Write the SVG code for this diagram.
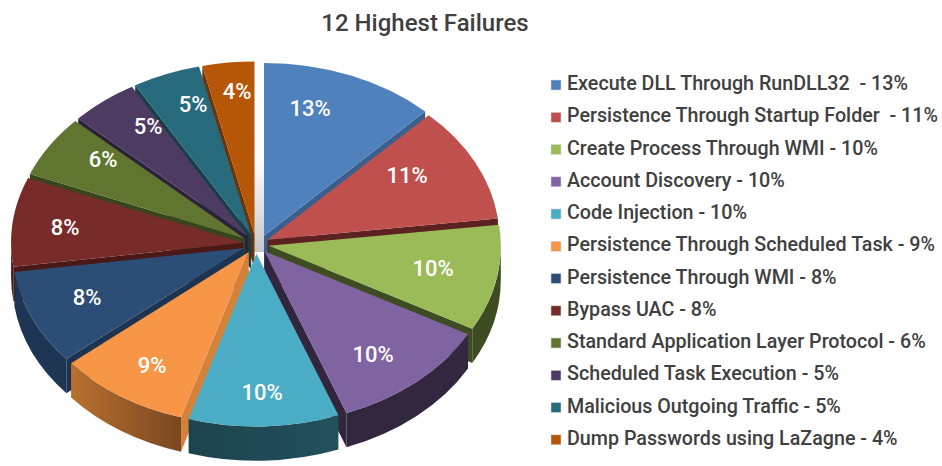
<svg xmlns="http://www.w3.org/2000/svg" width="942" height="466" viewBox="0 0 942 466">
<defs>
<linearGradient id="gOrangeArc" x1="0" y1="0" x2="1" y2="0">
<stop offset="0" stop-color="#b8712f"/><stop offset="1" stop-color="#7a4722"/>
</linearGradient>
<linearGradient id="gCyanArc" x1="0" y1="0" x2="1" y2="0">
<stop offset="0" stop-color="#1d434e"/><stop offset="1" stop-color="#22515c"/>
</linearGradient>
<linearGradient id="gStrip" x1="0" y1="0" x2="0" y2="1">
<stop offset="0" stop-color="#ffffff"/><stop offset="1" stop-color="#c6c6c6"/>
</linearGradient>
</defs>
<style>
.title{font-family:Roboto,"Liberation Sans",sans-serif;font-size:24px;font-weight:500;fill:#404040}
.lbl{font-family:Roboto,"Liberation Sans",sans-serif;font-size:22px;font-weight:500;fill:#ffffff;text-anchor:middle}
.leg{font-family:Roboto,"Liberation Sans",sans-serif;font-size:19.7px;font-weight:500;fill:#404040;white-space:pre}
.sw{stroke:#d8d8d8;stroke-width:0.6}
</style>
<rect width="942" height="466" fill="#ffffff"/>
<text class="title" x="425" y="31" text-anchor="middle">12 Highest Failures</text>
<rect x="254" y="160" width="10" height="92" fill="url(#gStrip)"/>
<g id="pie" transform="translate(256,244) scale(1,0.745)">
<g id="slice-12">
<path d="M -1.5,-12.9 L -53.7,-239 L -53.7,-193 L -1.5,33.1 Z" fill="#6b3306"/>
<path d="M -1.5,-12.9 L -53.7,-239 A 232 232 0 0 1 -1.5,-244.9 Z" fill="#b65708"/>
</g>
<g id="slice-1">
<path d="M 8,-11 L 169.2,-177.9 L 169.2,-131.9 L 8,35 Z" fill="#3a5f8d"/>
<path d="M 8,-11 L 8,-243 A 232 232 0 0 1 169.2,-177.9 Z" fill="#4f81bd"/>
</g>
<g id="slice-11">
<path d="M -4.8,-12.1 L -120.8,-213 L -120.8,-167 L -4.8,33.9 Z" fill="#173f4a"/>
<path d="M -4.8,-12.1 L -120.8,-213 A 232 232 0 0 1 -57,-238.2 Z" fill="#276a7c"/>
</g>
<g id="slice-10">
<path d="M -8.1,-10.2 L -177.8,-168.4 L -177.8,-122.4 L -8.1,35.8 Z" fill="#2b2138"/>
<path d="M -8.1,-10.2 L -177.8,-168.4 A 232 232 0 0 1 -124.1,-211.1 Z" fill="#4d3b62"/>
</g>
<g id="slice-9">
<path d="M -11,-7 L -226.1,-93.9 L -226.1,-47.9 L -11,39 Z" fill="#38451c"/>
<path d="M -11,-7 L -226.1,-93.9 A 232 232 0 0 1 -180.7,-165.2 Z" fill="#5f7530"/>
</g>
<g id="slice-2">
<path d="M 11.6,-5.8 L 241.9,-34.1 L 241.9,11.9 L 11.6,40.2 Z" fill="#5c2120"/>
<path d="M 11.6,-5.8 L 172.8,-172.7 A 232 232 0 0 1 241.9,-34.1 Z" fill="#c0504d"/>
</g>
<g id="slice-8">
<path d="M -12.9,-1.6 L -242.6,30.7 L -242.6,76.7 L -12.9,44.4 Z" fill="#4a1817"/>
<path d="M -242.6,30.7 A 232 232 0 0 1 -244.9,-1.6 L -244.9,44.4 A 232 232 0 0 0 -242.6,76.7 Z" fill="#4a1817"/>
<path d="M -12.9,-1.6 L -242.6,30.7 A 232 232 0 0 1 -228,-88.5 Z" fill="#772c2a"/>
</g>
<g id="slice-3">
<path d="M 12.8,2.4 L 216.3,113.8 L 216.3,159.8 L 12.8,48.4 Z" fill="#3e4c21"/>
<path d="M 244.8,2.4 A 232 232 0 0 1 216.3,113.8 L 216.3,159.8 A 232 232 0 0 0 244.8,48.4 Z" fill="#3e4c21"/>
<path d="M 12.8,2.4 L 243.1,-25.9 A 232 232 0 0 1 216.3,113.8 Z" fill="#9bbb59"/>
</g>
<g id="slice-7">
<path d="M -11.9,5.3 L -189.6,154.4 L -189.6,200.4 L -11.9,51.3 Z" fill="#1d3350"/>
<path d="M -189.6,154.4 A 232 232 0 0 1 -241.6,37.6 L -241.6,83.6 A 232 232 0 0 0 -189.6,200.4 Z" fill="#1f3554"/>
<path d="M -11.9,5.3 L -189.6,154.4 A 232 232 0 0 1 -241.6,37.6 Z" fill="#2c4d75"/>
</g>
<g id="slice-4">
<path d="M 8.5,9.8 L 90.5,226.8 L 90.5,272.8 L 8.5,55.8 Z" fill="#32263f"/>
<path d="M 212,121.2 A 232 232 0 0 1 90.5,226.8 L 90.5,272.8 A 232 232 0 0 0 212,167.2 Z" fill="#33273f"/>
<path d="M 8.5,9.8 L 212,121.2 A 232 232 0 0 1 90.5,226.8 Z" fill="#8064a2"/>
</g>
<g id="slice-6">
<path d="M -7.2,10.8 L -75,232.7 L -75,278.7 L -7.2,56.8 Z" fill="#d4813a"/>
<path d="M -75,232.7 A 232 232 0 0 1 -184.9,159.9 L -184.9,205.9 A 232 232 0 0 0 -75,278.7 Z" fill="url(#gOrangeArc)"/>
<path d="M -7.2,10.8 L -75,232.7 A 232 232 0 0 1 -184.9,159.9 Z" fill="#f79646"/>
</g>
<g id="slice-5">
<path d="M 82.4,230 A 232 232 0 0 1 -67.4,234.9 L -67.4,280.9 A 232 232 0 0 0 82.4,276 Z" fill="url(#gCyanArc)"/>
<path d="M 0.4,13 L 82.4,230 A 232 232 0 0 1 -67.4,234.9 Z" fill="#4bacc6"/>
</g>
</g>
<g id="slice-labels">
<text class="lbl" x="310" y="116">13%</text>
<text class="lbl" x="407" y="183">11%</text>
<text class="lbl" x="433" y="276">10%</text>
<text class="lbl" x="373" y="362">10%</text>
<text class="lbl" x="262" y="400">10%</text>
<text class="lbl" x="152" y="373">9%</text>
<text class="lbl" x="87" y="305">8%</text>
<text class="lbl" x="65" y="235">8%</text>
<text class="lbl" x="103" y="167">6%</text>
<text class="lbl" x="148" y="134">5%</text>
<text class="lbl" x="193" y="112">5%</text>
<text class="lbl" x="237" y="99">4%</text>
</g>
<g id="legend">
<g id="leg-1"><rect class="sw" x="551" y="80" width="10" height="10" fill="#4f81bd"/><text class="leg" x="567" y="90">Execute DLL Through RunDLL32  - 13%</text></g>
<g id="leg-2"><rect class="sw" x="551" y="112.3" width="10" height="10" fill="#c0504d"/><text class="leg" x="567" y="122.3">Persistence Through Startup Folder  - 11%</text></g>
<g id="leg-3"><rect class="sw" x="551" y="144.5" width="10" height="10" fill="#9bbb59"/><text class="leg" x="567" y="154.5">Create Process Through WMI - 10%</text></g>
<g id="leg-4"><rect class="sw" x="551" y="176.8" width="10" height="10" fill="#8064a2"/><text class="leg" x="567" y="186.8">Account Discovery - 10%</text></g>
<g id="leg-5"><rect class="sw" x="551" y="209" width="10" height="10" fill="#4bacc6"/><text class="leg" x="567" y="219">Code Injection - 10%</text></g>
<g id="leg-6"><rect class="sw" x="551" y="241.3" width="10" height="10" fill="#f79646"/><text class="leg" x="567" y="251.3">Persistence Through Scheduled Task - 9%</text></g>
<g id="leg-7"><rect class="sw" x="551" y="273.5" width="10" height="10" fill="#2c4d75"/><text class="leg" x="567" y="283.5">Persistence Through WMI - 8%</text></g>
<g id="leg-8"><rect class="sw" x="551" y="305.8" width="10" height="10" fill="#772c2a"/><text class="leg" x="567" y="315.8">Bypass UAC - 8%</text></g>
<g id="leg-9"><rect class="sw" x="551" y="338" width="10" height="10" fill="#5f7530"/><text class="leg" x="567" y="348">Standard Application Layer Protocol - 6%</text></g>
<g id="leg-10"><rect class="sw" x="551" y="370.3" width="10" height="10" fill="#4d3b62"/><text class="leg" x="567" y="380.3">Scheduled Task Execution - 5%</text></g>
<g id="leg-11"><rect class="sw" x="551" y="402.5" width="10" height="10" fill="#276a7c"/><text class="leg" x="567" y="412.5">Malicious Outgoing Traffic - 5%</text></g>
<g id="leg-12"><rect class="sw" x="551" y="434.8" width="10" height="10" fill="#b65708"/><text class="leg" x="567" y="444.8">Dump Passwords using LaZagne - 4%</text></g>
</g>
</svg>
